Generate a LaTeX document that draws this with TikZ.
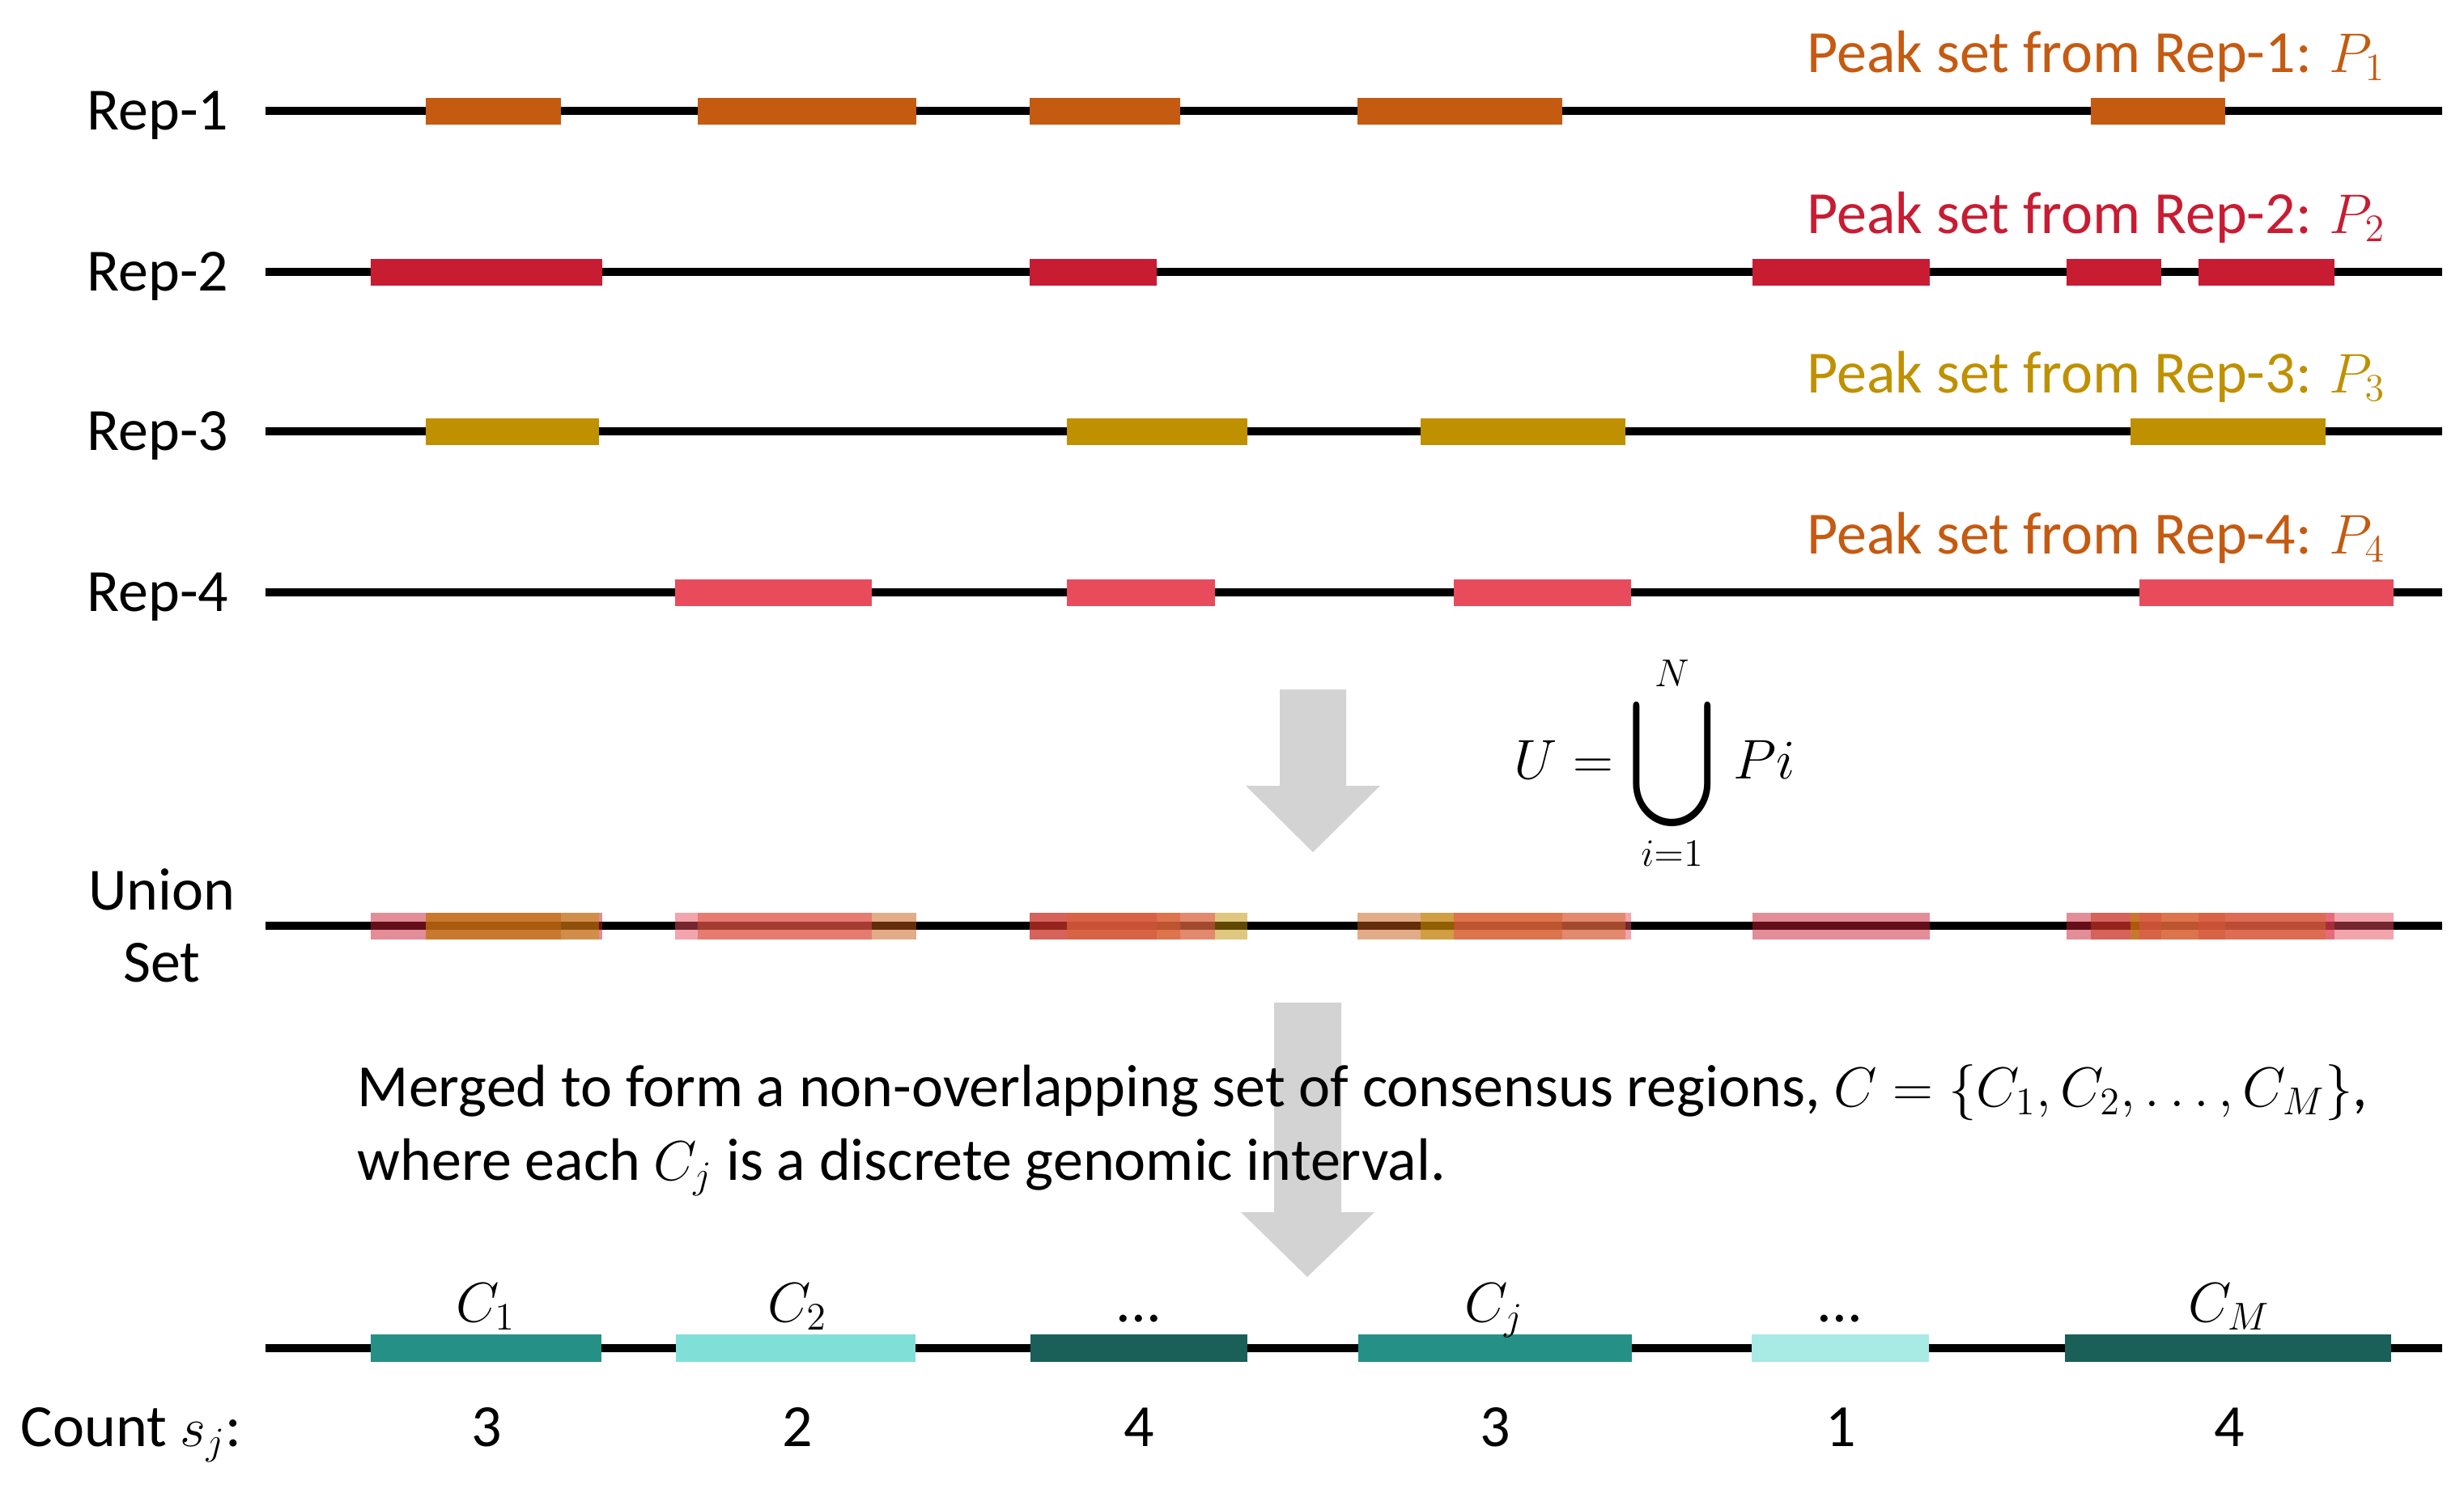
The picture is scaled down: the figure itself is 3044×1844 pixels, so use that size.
\documentclass[tikz,border=0pt]{standalone}
\usepackage{fontspec}
\setmainfont{Carlito}
\usepackage{xcolor}
\usepackage{tikz}
\usetikzlibrary{shapes}

\begin{document}
\begin{tikzpicture}[x=0.25pt,y=0.25pt,yscale=-1,xscale=1,
	track/.style={line width=2.5pt, color=black},
	rep1bar/.style={fill={rgb, 255:red, 197; green, 90; blue, 17}},
	rep2bar/.style={fill={rgb, 255:red, 200; green, 28; blue, 50}},
	rep3bar/.style={fill={rgb, 255:red, 191; green, 144; blue, 0}},
	rep4bar/.style={fill={rgb, 255:red, 232; green, 76; blue, 92}},
	unionbar/.style={fill opacity=0.5},
	bigarrow/.style={fill={rgb, 255:red, 211; green, 211; blue, 211}},
	lbl/.style={inner sep=0pt, font=\fontsize{18.5}{22.75}\selectfont}
	]
	\path[use as bounding box] (0,0) rectangle (3044,1844);
	
	%Down Arrow (union)
	\fill [bigarrow] (1581,852) -- (1663,852) -- (1663,971) -- (1705,971) -- (1622,1053) -- (1539,971) -- (1581,971) -- cycle ;
	%Down Arrow (merge)
	\fill [bigarrow] (1574,1239) -- (1657,1239) -- (1657,1498) -- (1698,1498) -- (1615,1578) -- (1533,1498) -- (1574,1498) -- cycle ;
	
	%Straight Lines
	\draw [track] (328,137) -- (3017,137) ;
	\draw [track] (328,336) -- (3017,336) ;
	\draw [track] (328,533) -- (3017,533) ;
	\draw [track] (328,732) -- (3017,732) ;
	\draw [track] (328,1144) -- (3017,1144) ;
	\draw [track] (328,1666) -- (3017,1666) ;
	
	%Shape: Rectangle (Rep-1 peaks)
	\fill [rep1bar] (526,121) rectangle (693,154) ;
	\fill [rep1bar] (862,121) rectangle (1132,154) ;
	\fill [rep1bar] (1272,121) rectangle (1458,154) ;
	\fill [rep1bar] (1677,121) rectangle (1930,154) ;
	\fill [rep1bar] (2583,121) rectangle (2749,154) ;
	%Shape: Rectangle (Rep-2 peaks)
	\fill [rep2bar] (458,320) rectangle (744,353) ;
	\fill [rep2bar] (1272,320) rectangle (1429,353) ;
	\fill [rep2bar] (2165,320) rectangle (2384,353) ;
	\fill [rep2bar] (2553,320) rectangle (2670,353) ;
	\fill [rep2bar] (2716,320) rectangle (2884,353) ;
	%Shape: Rectangle (Rep-3 peaks)
	\fill [rep3bar] (526,517) rectangle (740,550) ;
	\fill [rep3bar] (1318,517) rectangle (1541,550) ;
	\fill [rep3bar] (1755,517) rectangle (2008,550) ;
	\fill [rep3bar] (2632,517) rectangle (2873,550) ;
	%Shape: Rectangle (Rep-4 peaks)
	\fill [rep4bar] (834,716) rectangle (1077,749) ;
	\fill [rep4bar] (1318,716) rectangle (1501,749) ;
	\fill [rep4bar] (1796,716) rectangle (2015,749) ;
	\fill [rep4bar] (2643,716) rectangle (2957,749) ;
	
	%Shape: Rectangle (union of all peaks)
	\fill [rep1bar, unionbar] (526,1128) rectangle (693,1161) ;
	\fill [rep1bar, unionbar] (862,1128) rectangle (1132,1161) ;
	\fill [rep1bar, unionbar] (1272,1128) rectangle (1458,1161) ;
	\fill [rep1bar, unionbar] (1677,1128) rectangle (1930,1161) ;
	\fill [rep1bar, unionbar] (2583,1128) rectangle (2749,1161) ;
	\fill [rep2bar, unionbar] (458,1128) rectangle (744,1161) ;
	\fill [rep2bar, unionbar] (1272,1128) rectangle (1429,1161) ;
	\fill [rep2bar, unionbar] (2165,1128) rectangle (2384,1161) ;
	\fill [rep2bar, unionbar] (2553,1128) rectangle (2670,1161) ;
	\fill [rep2bar, unionbar] (2716,1128) rectangle (2884,1161) ;
	\fill [rep3bar, unionbar] (526,1128) rectangle (740,1161) ;
	\fill [rep3bar, unionbar] (1318,1128) rectangle (1541,1161) ;
	\fill [rep3bar, unionbar] (1755,1128) rectangle (2008,1161) ;
	\fill [rep3bar, unionbar] (2632,1128) rectangle (2873,1161) ;
	\fill [rep4bar, unionbar] (834,1128) rectangle (1077,1161) ;
	\fill [rep4bar, unionbar] (1318,1128) rectangle (1501,1161) ;
	\fill [rep4bar, unionbar] (1796,1128) rectangle (2015,1161) ;
	\fill [rep4bar, unionbar] (2643,1128) rectangle (2957,1161) ;
	
	%Shape: Rectangle (consensus regions)
	\fill [fill={rgb, 255:red, 37; green, 145; blue, 134}] (458,1649) rectangle (743,1683) ;
	\fill [fill={rgb, 255:red, 128; green, 224; blue, 216}] (835,1649) rectangle (1131,1683) ;
	\fill [fill={rgb, 255:red, 26; green, 95; blue, 88}] (1273,1649) rectangle (1541,1683) ;
	\fill [fill={rgb, 255:red, 37; green, 145; blue, 134}] (1678,1649) rectangle (2016,1683) ;
	\fill [fill={rgb, 255:red, 168; green, 234; blue, 228}] (2164,1649) rectangle (2383,1683) ;
	\fill [fill={rgb, 255:red, 26; green, 95; blue, 88}] (2551,1649) rectangle (2954,1683) ;
	
	% Text Node
	\draw (283,160) node [anchor=base east] [lbl] (rep1) {Rep-1};
	\draw (283,359) node [anchor=base east] [lbl] (rep2) {Rep-2};
	\draw (283,556) node [anchor=base east] [lbl] (rep3) {Rep-3};
	\draw (283,755) node [anchor=base east] [lbl] (rep4) {Rep-4};
	\draw (200,1124) node [anchor=base] [lbl] (union) {Union};
	\draw (200,1213) node [anchor=base] [lbl] (unionset) {Set};
	% Text Node
	\draw (2232,89) node [anchor=base west] [lbl, color={rgb, 255:red, 197; green, 90; blue, 17}] (peak1) {Peak set from Rep-1: $P_1$};
	\draw (2232,288) node [anchor=base west] [lbl, color={rgb, 255:red, 200; green, 28; blue, 50}] (peak2) {Peak set from Rep-2: $P_2$};
	\draw (2232,485) node [anchor=base west] [lbl, color={rgb, 255:red, 191; green, 144; blue, 0}] (peak3) {Peak set from Rep-3: $P_3$};
	\draw (2232,684) node [anchor=base west] [lbl, color={rgb, 255:red, 197; green, 90; blue, 17}] (peak4) {Peak set from Rep-4: $P_4$};
	% Text Node
	\draw (1870,962) node [anchor=base west] [lbl] (unionformula) {$U=\mathop{\vcenter{\hbox{\scalebox{2.4}[2.75]{$\displaystyle\bigcup$}}}}\limits_{i=1}^{N}\,Pi$};
	\draw (441,1458) node [anchor=base west] [lbl, align=left] (merged) {Merged to form a non-overlapping set of consensus regions, $C=\{C_1,C_2,\dots,C_M\}$,\\where each $C_j$ is a discrete genomic interval.};
	% Text Node
	\draw (600,1633) node [anchor=base] [lbl] (c1) {$C_1$};
	\draw (985,1633) node [anchor=base] [lbl] (c2) {$C_2$};
	\draw (1407,1633) node [anchor=base] [lbl] (cdots1) {...};
	\draw (1846,1633) node [anchor=base] [lbl] (cj) {$C_j$};
	\draw (2273,1633) node [anchor=base] [lbl] (cdots2) {...};
	\draw (2754,1633) node [anchor=base] [lbl] (cm) {$C_M$};
	% Text Node
	\draw (25,1787) node [anchor=base west] [lbl] (count) {Count $s_j$:};
	\draw (601,1787) node [anchor=base] [lbl] (n1) {3};
	\draw (985,1787) node [anchor=base] [lbl] (n2) {2};
	\draw (1407,1787) node [anchor=base] [lbl] (n3) {4};
	\draw (1847,1787) node [anchor=base] [lbl] (n4) {3};
	\draw (2274,1787) node [anchor=base] [lbl] (n5) {1};
	\draw (2754,1787) node [anchor=base] [lbl] (n6) {4};
	
\end{tikzpicture}
\end{document}
